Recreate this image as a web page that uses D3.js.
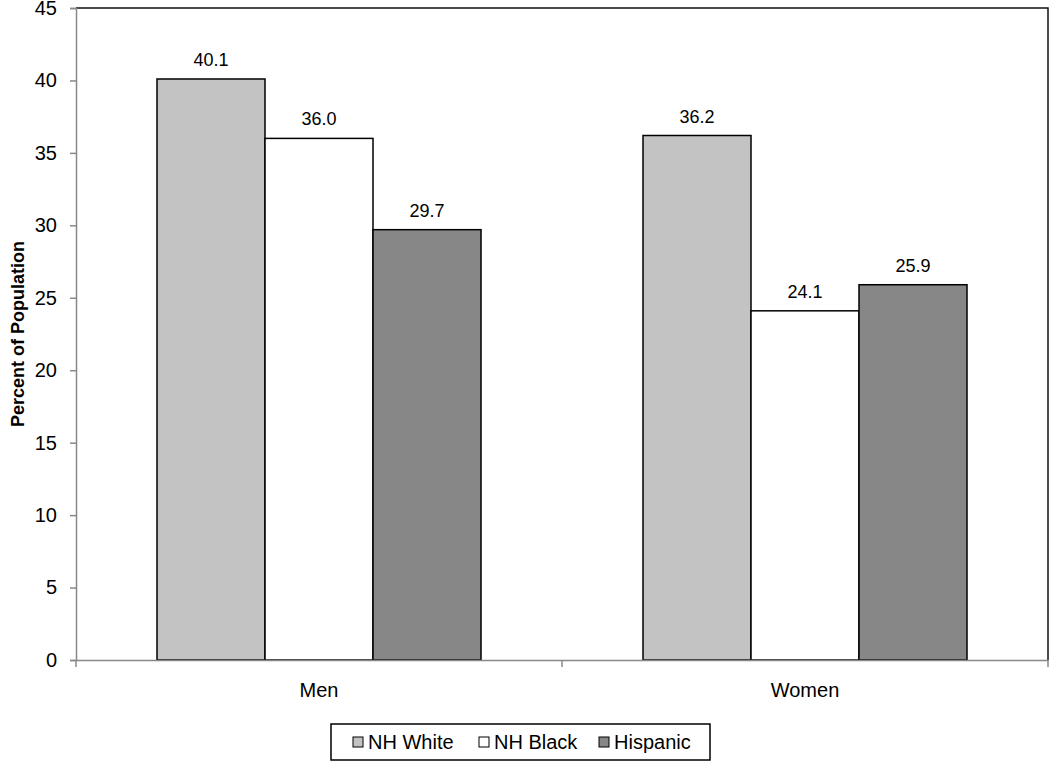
<!DOCTYPE html>
<html>
<head>
<meta charset="utf-8">
<script src="https://cdn.jsdelivr.net/npm/d3@7"></script>
<style>
	body { margin: 0; background: #fff; }
	svg { font-family: "Liberation Sans", Arial, sans-serif; }
</style>
</head>
<body>
<div id="chart"></div>
<script>
	// values
	var categories = ['Men', 'Women']
	var groups = ['NH White', 'NH Black', 'Hispanic']
	var nhWhite = [40.1, 36.2]
	var nhBlack = [36.0, 24.1]
	var hispanic = [29.7, 25.9]
	var yTicks = [0, 5, 10, 15, 20, 25, 30, 35, 40, 45]
	var colors = ['#c3c3c3', '#ffffff', '#878787']

	var width = 1050
	var height = 761
	var plotL = 76, plotR = 1048, plotT = 8, plotB = 660

	var series = [nhWhite, nhBlack, hispanic]
	var rows = categories.map(function(c, i) {
		return { cat: c, vals: groups.map(function(g, j) { return { key: g, value: series[j][i] } }) }
	})

	var svg = d3.select('#chart').append('svg')
		.attr('width', width)
		.attr('height', height)

	var x0 = d3.scaleBand().domain(categories).range([plotL, plotR])
	var bw = x0.bandwidth()
	var x1 = d3.scaleBand().domain(groups).range([bw / 6, bw * 5 / 6])
	var y = d3.scaleLinear().domain([0, 45]).range([plotB, plotT])

	// plot area border (top and right black)
	svg.append('path')
		.attr('d', 'M' + plotL + ',' + plotT + 'H' + plotR + 'V' + plotB)
		.attr('fill', 'none')
		.attr('stroke', '#111')
		.attr('stroke-width', 1.5)

	var g = svg.selectAll('.grp')
		.data(rows)
		.enter().append('g')
		.attr('transform', function(d) { return 'translate(' + x0(d.cat) + ',0)' })

	g.selectAll('rect')
		.data(function(d) { return d.vals })
		.enter().append('rect')
		.attr('x', function(d) { return x1(d.key) })
		.attr('y', function(d) { return y(d.value) })
		.attr('width', x1.bandwidth())
		.attr('height', function(d) { return y(0) - y(d.value) })
		.attr('fill', function(d, i) { return colors[i] })
		.attr('stroke', '#000')
		.attr('stroke-width', 1.5)

	g.selectAll('text')
		.data(function(d) { return d.vals })
		.enter().append('text')
		.attr('x', function(d) { return x1(d.key) + x1.bandwidth() / 2 })
		.attr('y', function(d) { return y(d.value) - 13 })
		.attr('text-anchor', 'middle')
		.style('font-size', '18px')
		.text(function(d) { return d.value.toFixed(1) })

	// y axis
	var yAxis = svg.append('g')
		.attr('transform', 'translate(' + plotL + ',0)')
		.call(d3.axisLeft(y).tickValues(yTicks).tickSize(6).tickPadding(13))
	yAxis.select('.domain').attr('stroke', '#888').attr('stroke-width', 1.5)
	yAxis.selectAll('.tick line').attr('stroke', '#888').attr('stroke-width', 1.5)
	yAxis.selectAll('text').style('font-size', '20px').attr('fill', '#000')

	// x axis
	var xAxis = svg.append('g')
		.attr('transform', 'translate(0,' + plotB + ')')
		.call(d3.axisBottom(x0).tickSize(0).tickPadding(23))
	xAxis.select('.domain').attr('stroke', '#888').attr('stroke-width', 1.5)
	xAxis.selectAll('text').style('font-size', '20px').attr('fill', '#000')
	// category separators
	xAxis.selectAll('.sep')
		.data(categories.concat(['end']))
		.enter().append('line')
		.attr('x1', function(d) { return d === 'end' ? plotR : x0(d) })
		.attr('x2', function(d) { return d === 'end' ? plotR : x0(d) })
		.attr('y1', 0).attr('y2', 7)
		.attr('stroke', '#888').attr('stroke-width', 1.5)

	svg.append('text')
		.attr('transform', 'translate(24,' + ((plotT + plotB) / 2) + ') rotate(-90)')
		.attr('text-anchor', 'middle')
		.style('font-size', '18px')
		.style('font-weight', 'bold')
		.text('Percent of Population')

	// legend
	var lg = svg.append('g').attr('transform', 'translate(331,724)')
	lg.append('rect')
		.attr('width', 379).attr('height', 36)
		.attr('fill', '#fff').attr('stroke', '#000').attr('stroke-width', 1.5)
	var lx = [22, 148, 268]
	var item = lg.selectAll('.item')
		.data(groups)
		.enter().append('g')
		.attr('transform', function(d, i) { return 'translate(' + lx[i] + ',0)' })
	item.append('rect')
		.attr('x', 0).attr('y', 13).attr('width', 10).attr('height', 10)
		.attr('fill', function(d, i) { return colors[i] })
		.attr('stroke', '#000').attr('stroke-width', 1)
	item.append('text')
		.attr('x', 15).attr('y', 25)
		.style('font-size', '20px')
		.text(function(d) { return d })
</script>
</body>
</html>
